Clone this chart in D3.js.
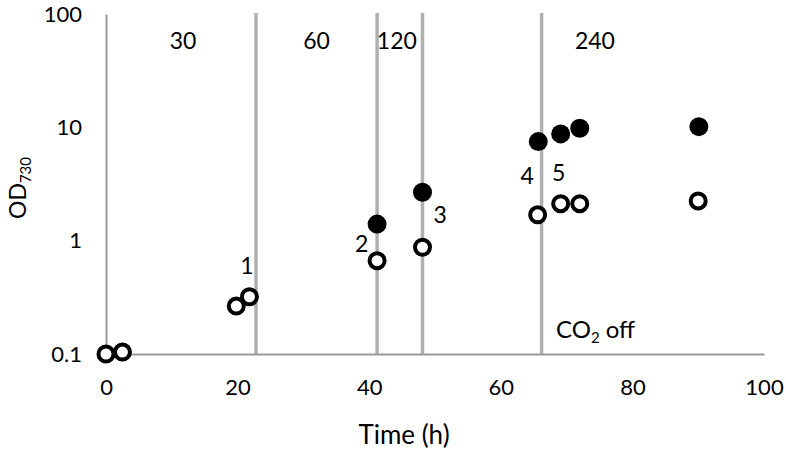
<!DOCTYPE html>
<html><head><meta charset="utf-8">
<script src="https://cdn.jsdelivr.net/npm/d3@7"></script>
<style>
body{margin:0;background:#fff;}
text{font-family:Lato,"Open Sans",sans-serif;fill:#000;}
</style></head>
<body><svg id="c" width="786" height="452"></svg>
<script>
// Data
const openTime = [0, 2.5, 19.8, 21.8, 41.2, 48.1, 65.6, 69.1, 72.0, 90.0];
const openOD   = [0.1, 0.104, 0.265, 0.32, 0.666, 0.875, 1.69, 2.12, 2.12, 2.24];
const fillTime = [41.2, 48.1, 65.7, 69.1, 72.0, 90.1];
const fillOD   = [1.40, 2.67, 7.48, 8.75, 9.82, 10.14];
const markerLines = [22.8, 41.2, 48.1, 66.2];
const lightLabels = ["30", "60", "120", "240"];
const lightLabelX = [11.7, 32.0, 44.2, 74.3];
const sampleLabels = ["1", "2", "3", "4", "5"];
const sampleLabelX = [21.4, 38.85, 50.8, 64.0, 68.8];
const sampleLabelY = [0.503, 0.798, 1.42, 3.15, 3.33];
const xTicks = [0, 20, 40, 60, 80, 100];
const yTicks = [0.1, 1, 10, 100];
const yTickLabels = ["0.1", "1", "10", "100"];

const svg = d3.select("#c");
const x = d3.scaleLinear().domain([0, 100]).range([106, 764]);
const y = d3.scaleLog().domain([0.1, 100]).range([354, 14]);
const FS = 22, FA = 23;

// Vertical reference lines
svg.append("g").selectAll("line").data(markerLines).join("line")
  .attr("x1", d => x(d)).attr("x2", d => x(d))
  .attr("y1", 13).attr("y2", 354)
  .attr("stroke", "#b0b0b0").attr("stroke-width", 3.5);

// Axes
const xAxis = svg.append("g").attr("transform", "translate(0,354)")
  .call(d3.axisBottom(x).tickValues(xTicks).tickSize(0).tickSizeOuter(0).tickPadding(25));
const yAxis = svg.append("g").attr("transform", "translate(106,0)")
  .call(d3.axisLeft(y).tickValues(yTicks).tickFormat((d, i) => yTickLabels[i]).tickSize(0).tickSizeOuter(0).tickPadding(24));
[xAxis, yAxis].forEach(g => {
  g.attr("font-size", FS).attr("font-family", "Lato");
  g.select(".domain").attr("stroke", "#999").attr("stroke-width", 2);
  g.selectAll("text").attr("font-size", FS).attr("fill", "#000");
});

// Axis titles
svg.append("text").attr("x", 404).attr("y", 444).attr("text-anchor", "middle")
  .attr("font-size", 26).text("Time (h)");
const yt = svg.append("text").attr("transform", "translate(26,188) rotate(-90)")
  .attr("text-anchor", "middle").attr("font-size", 23);
yt.append("tspan").text("OD");
yt.append("tspan").attr("font-size", 15).attr("dy", 5).text("730");

// Light intensity labels
svg.append("g").selectAll("text").data(lightLabels).join("text")
  .attr("x", (d, i) => x(lightLabelX[i])).attr("y", 49)
  .attr("text-anchor", "middle").attr("font-size", FA).text(d => d);

// Sample labels
svg.append("g").selectAll("text").data(sampleLabels).join("text")
  .attr("x", (d, i) => x(sampleLabelX[i])).attr("y", (d, i) => y(sampleLabelY[i]))
  .attr("text-anchor", "middle").attr("font-size", FA).text(d => d);

// CO2 off
const co = svg.append("text").attr("x", 556).attr("y", 338).attr("font-size", 24);
co.append("tspan").text("CO");
co.append("tspan").attr("font-size", 15).attr("dy", 5).text("2");
co.append("tspan").attr("dy", -5).text(" off");

// Markers
svg.append("g").selectAll("circle").data(openTime).join("circle")
  .attr("cx", d => x(d)).attr("cy", (d, i) => y(openOD[i])).attr("r", 7.5)
  .attr("fill", "#fff").attr("stroke", "#000").attr("stroke-width", 4);
svg.append("g").selectAll("circle").data(fillTime).join("circle")
  .attr("cx", d => x(d)).attr("cy", (d, i) => y(fillOD[i])).attr("r", 9.5)
  .attr("fill", "#000");
</script></body></html>
